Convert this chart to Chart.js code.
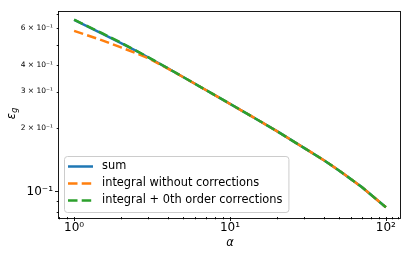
<!DOCTYPE html>
<html>
<head>
<meta charset="utf-8">
<script src="https://cdn.jsdelivr.net/npm/chart.js@4.4.0/dist/chart.umd.min.js"></script>
<style>
  html, body { margin: 0; padding: 0; background: #fff; }
  #wrap { width: 407px; height: 258px; }
</style>
</head>
<body>
<div id="wrap"><canvas id="graph" width="407" height="258"></canvas></div>
<script>
"use strict";

// values
const alpha = [1, 1.5, 2, 2.5, 3, 4, 5, 7, 10, 15, 20, 30, 40, 50, 70, 100];
const sum_values = [0.660, 0.569, 0.511, 0.469, 0.436, 0.387, 0.352, 0.305, 0.262, 0.220, 0.194, 0.161, 0.141, 0.126, 0.105, 0.0840];
const integral_values = [0.584, 0.528, 0.487, 0.457, 0.432, 0.386, 0.352, 0.305, 0.262, 0.220, 0.194, 0.161, 0.141, 0.126, 0.105, 0.0840];
const corrected_values = [0.661, 0.571, 0.513, 0.470, 0.437, 0.387, 0.352, 0.305, 0.262, 0.220, 0.194, 0.161, 0.141, 0.126, 0.105, 0.0840];

// tick values and labels
const x_major = [1, 10, 100];
const x_major_labels = ["10⁰", "10¹", "10²"];
const x_minor = [0.8, 0.9, 2, 3, 4, 5, 6, 7, 8, 9, 20, 30, 40, 50, 60, 70, 80, 90, 110, 120];
const y_major = [0.1];
const y_major_labels = ["10⁻¹"];
const y_minor = [0.08, 0.09, 0.2, 0.3, 0.4, 0.5, 0.6, 0.7];
const y_minor_labels = ["", "", "2 × 10⁻¹", "3 × 10⁻¹", "4 × 10⁻¹", "", "6 × 10⁻¹", ""];

const FONT = "'DejaVu Sans', sans-serif";
const FS = 11.4;

function to_points(ys) {
  return alpha.map((a, i) => ({ x: a, y: ys[i] }));
}

function set_ticks(major, minor) {
  return function (scale) {
    let ticks = [];
    major.forEach((v) => ticks.push({ value: v, major: true }));
    minor.forEach((v) => ticks.push({ value: v, major: false }));
    ticks.sort((a, b) => a.value - b.value);
    scale.ticks = ticks;
  };
}

function label_for(value, major, major_labels, minor, minor_labels) {
  let i = major.indexOf(value);
  if (i >= 0) return major_labels[i];
  i = minor.indexOf(value);
  if (i >= 0) return minor_labels[i] || "";
  return "";
}

// frame, tick marks, y title, legend
const frame_plugin = {
  id: "frame",
  afterDatasetsDraw(chart) {
    const { ctx, chartArea: area, scales } = chart;
    ctx.save();
    ctx.strokeStyle = "#000";
    ctx.lineWidth = 0.9;
    ctx.beginPath();
    scales.x.ticks.forEach((t) => {
      const px = Math.round(scales.x.getPixelForValue(t.value)) + 0.5;
      const len = t.major ? 4 : 2.3;
      ctx.moveTo(px, area.bottom);
      ctx.lineTo(px, area.bottom + len);
    });
    scales.y.ticks.forEach((t) => {
      const py = Math.round(scales.y.getPixelForValue(t.value)) + 0.5;
      const len = t.major ? 4 : 2.3;
      ctx.moveTo(area.left, py);
      ctx.lineTo(area.left - len, py);
    });
    ctx.stroke();
    ctx.strokeRect(Math.round(area.left) - 0.5, Math.round(area.top) + 0.5,
      Math.round(area.right - area.left), Math.round(area.bottom - area.top));
    ctx.restore();
  },
  afterDraw(chart) {
    const { ctx, chartArea: area } = chart;
    // y axis title: epsilon with subscript g
    ctx.save();
    ctx.translate(12, (area.top + area.bottom) / 2);
    ctx.rotate(-Math.PI / 2);
    ctx.fillStyle = "#000";
    ctx.textBaseline = "middle";
    ctx.font = "italic " + FS + "px " + FONT;
    const w1 = ctx.measureText("ε").width;
    ctx.font = "italic 8px " + FONT;
    const w2 = ctx.measureText("g").width;
    const x0 = -(w1 + w2) / 2;
    ctx.font = "italic " + FS + "px " + FONT;
    ctx.fillText("ε", x0, 0);
    ctx.font = "italic 8px " + FONT;
    ctx.fillText("g", x0 + w1 + 0.5, 3);
    ctx.restore();

    // legend
    const sets = chart.data.datasets;
    ctx.save();
    ctx.font = FS + "px " + FONT;
    const text_w = Math.max(...sets.map((d) => ctx.measureText(d.label).width));
    const left = area.left + 5;
    const h = 56;
    const top = area.bottom - 5 - h;
    const w = text_w + 44;
    ctx.beginPath();
    ctx.roundRect(left + 0.5, top + 0.5, w, h, 3);
    ctx.fillStyle = "rgba(255,255,255,0.8)";
    ctx.fill();
    ctx.strokeStyle = "#cccccc";
    ctx.lineWidth = 1;
    ctx.stroke();
    sets.forEach((d, i) => {
      const y = top + 10.5 + i * 17;
      ctx.beginPath();
      ctx.setLineDash(d.borderDash || []);
      ctx.strokeStyle = d.borderColor;
      ctx.lineWidth = d.borderWidth;
      ctx.moveTo(left + 4, y);
      ctx.lineTo(left + 29, y);
      ctx.stroke();
      ctx.setLineDash([]);
      ctx.fillStyle = "#000";
      ctx.textBaseline = "middle";
      ctx.fillText(d.label, left + 38, y);
    });
    ctx.restore();
  },
};

Chart.defaults.color = "#000";
Chart.defaults.font.family = FONT;
Chart.defaults.font.size = FS;

const config = {
  type: "line",
  data: {
    datasets: [
      {
        label: "sum",
        data: to_points(sum_values),
        borderColor: "#1f77b4",
        borderWidth: 2.5,
        order: 3,
      },
      {
        label: "integral without corrections",
        data: to_points(integral_values),
        borderColor: "#ff7f0e",
        borderWidth: 2.5,
        borderDash: [9.5, 4.2],
        order: 2,
      },
      {
        label: "integral + 0th order corrections",
        data: to_points(corrected_values),
        borderColor: "#2ca02c",
        borderWidth: 2.5,
        borderDash: [9.5, 4.2],
        order: 1,
      },
    ],
  },
  options: {
    responsive: false,
    animation: false,
    devicePixelRatio: 1,
    elements: { point: { radius: 0 }, line: { tension: 0 } },
    layout: { padding: { top: 5, right: 6, left: 0, bottom: 0 } },
    plugins: { legend: { display: false }, tooltip: { enabled: false } },
    scales: {
      x: {
        type: "logarithmic",
        min: 0.8,
        max: 125,
        bounds: "data",
        grid: { display: false, drawTicks: false },
        border: { display: false },
        afterBuildTicks: set_ticks(x_major, x_minor),
        afterFit: (scale) => { scale.height = 41; },
        ticks: {
          autoSkip: false,
          maxRotation: 0,
          padding: 4,
          font: { size: 12 },
          callback: (value) => label_for(value, x_major, x_major_labels, x_minor, []),
        },
        title: {
          display: true,
          text: "α",
          font: { size: FS, style: "italic" },
          padding: { top: 0, bottom: 8 },
        },
      },
      y: {
        type: "logarithmic",
        min: 0.0755,
        max: 0.731,
        bounds: "data",
        grid: { display: false, drawTicks: false },
        border: { display: false },
        afterBuildTicks: set_ticks(y_major, y_minor),
        afterFit: (scale) => { scale.width = 59; },
        ticks: {
          autoSkip: false,
          padding: 6,
          font: (ctx) => ({ size: ctx.tick && y_major.includes(ctx.tick.value) ? 12 : 7.5 }),
          callback: (value) => label_for(value, y_major, y_major_labels, y_minor, y_minor_labels),
        },
      },
    },
  },
  plugins: [frame_plugin],
};

new Chart(document.getElementById("graph"), config);
</script>
</body>
</html>
